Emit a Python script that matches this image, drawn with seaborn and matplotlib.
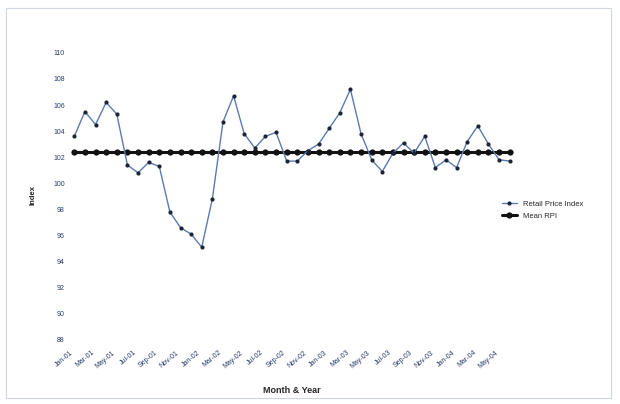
import matplotlib
matplotlib.use("Agg")
import matplotlib.pyplot as plt
import seaborn as sns
import pandas as pd
from matplotlib.patches import Rectangle

years = ["01", "02", "03", "04"]
month_names = ["Jan", "Feb", "Mar", "Apr", "May", "Jun",
               "Jul", "Aug", "Sep", "Oct", "Nov", "Dec"]
months = [m + "-" + y for y in years for m in month_names][:42]

rpi = [103.6, 105.5, 104.5, 106.2, 105.3, 101.4, 100.8, 101.6, 101.3, 97.8,
       96.6, 96.1, 95.1, 98.8, 104.7, 106.7, 103.8, 102.7, 103.6, 103.9,
       101.7, 101.7, 102.5, 103.0, 104.2, 105.4, 107.2, 103.8, 101.8, 100.9,
       102.3, 103.1, 102.3, 103.6, 101.2, 101.8, 101.2, 103.2, 104.4, 103.0,
       101.8, 101.7]
mean_rpi = [102.4] * len(rpi)
y_ticks = [88, 90, 92, 94, 96, 98, 100, 102, 104, 106, 108, 110]

df = pd.DataFrame({"pos": range(len(rpi)), "month": months,
                   "rpi": rpi, "mean": mean_rpi})

sns.set_style("white")
plt.rcParams["font.family"] = ["Liberation Sans", "DejaVu Sans"]

fig = plt.figure(figsize=(6.2, 4.04), dpi=100)
ax = fig.add_axes([69 / 620, 1 - 345 / 404, 446 / 620, 300 / 404])

sns.lineplot(data=df, x="pos", y="mean", ax=ax, color="#111111", lw=2.2,
             marker="o", markersize=4.5, markeredgewidth=0,
             label="Mean RPI")
sns.lineplot(data=df, x="pos", y="rpi", ax=ax, color="#5b7bb0", lw=1.0,
             marker="o", markersize=3, markerfacecolor="#1c2438",
             markeredgewidth=0, label="Retail Price Index")

ax.set_xlim(-0.5, len(rpi) - 0.5)
ax.set_ylim(87.6, 110.6)
ax.set_yticks(y_ticks)
ax.set_yticklabels([str(v) for v in y_ticks], fontsize=5, color="#2a3a6a")
ax.set_xticks(df["pos"][::2])
ax.set_xticklabels(df["month"][::2], rotation=40, ha="right",
                   fontsize=5, color="#2a3a6a")
ax.tick_params(length=0, pad=3)
for s in ax.spines.values():
    s.set_visible(False)

ax.set_xlabel("Month & Year", fontsize=6.5, fontweight="bold", labelpad=12)
ax.set_ylabel("Index", fontsize=5.5, fontweight="bold", labelpad=12)

h, l = ax.get_legend_handles_labels()
ax.legend(h[::-1], l[::-1], loc="center left", bbox_to_anchor=(0.955, 0.45),
          frameon=False, fontsize=5.5, handlelength=2, labelspacing=0.6)

fig.patches.append(Rectangle((0.01, 0.015), 0.975, 0.965,
                             transform=fig.transFigure, fill=False,
                             edgecolor="#cfd6e0", lw=0.8))

fig.savefig("out.png", dpi=100)
